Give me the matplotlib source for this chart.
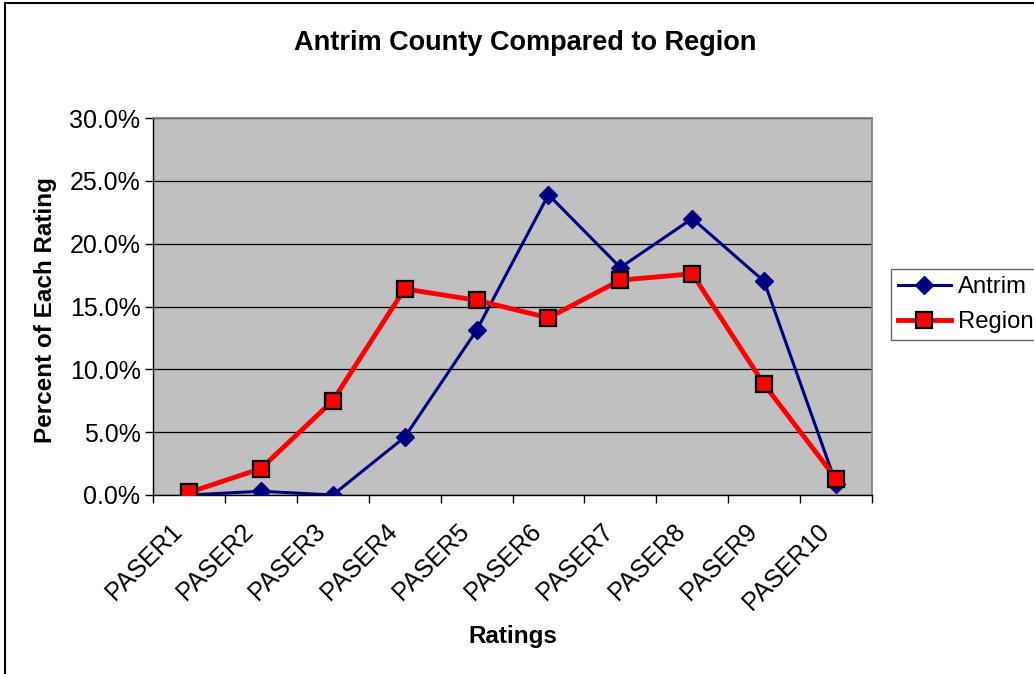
import matplotlib.pyplot as plt
from matplotlib.patches import Rectangle
from matplotlib.ticker import FuncFormatter, FixedLocator
from matplotlib.transforms import ScaledTranslation

plt.rcParams['font.family'] = ['Liberation Sans', 'DejaVu Sans']

ratings = ['PASER1', 'PASER2', 'PASER3', 'PASER4', 'PASER5',
           'PASER6', 'PASER7', 'PASER8', 'PASER9', 'PASER10']
antrim = [0.0, 0.3, 0.0, 4.6, 13.1, 23.9, 18.1, 22.0, 17.0, 0.9]
region = [0.2, 2.1, 7.5, 16.4, 15.5, 14.1, 17.1, 17.6, 8.8, 1.3]

W, H = 1034, 674
fig = plt.figure(figsize=(W / 100, H / 100), dpi=100)
ax = fig.add_axes([153/W, 1 - 495/H, (872 - 153)/W, (495 - 118)/H])
ax.set_facecolor('#c0c0c0')

x = list(range(len(ratings)))
ax.plot(x, antrim, color='#000080', lw=2.2, marker='D', ms=9.5,
        mec='#000080', mfc='#000080', label='Antrim', zorder=3)
ax.plot(x, region, color='#ff0000', lw=3.5, marker='s', ms=11,
        mec='black', mew=1.6, mfc='#ff0000', label='Region', zorder=4)

ax.set_xlim(-0.5, len(ratings) - 0.5)
ax.set_ylim(0, 30)
ax.set_yticks([0, 5, 10, 15, 20, 25, 30])
ax.yaxis.set_major_formatter(FuncFormatter(lambda v, p: '%.1f%%' % v))
ax.grid(axis='y', color='black', lw=0.9)
ax.set_axisbelow(True)

# category labels sit between the tick marks, rotated like Excel does
ax.set_xticks(x)
ax.set_xticklabels(ratings, rotation=45, ha='right', va='center',
                   rotation_mode='anchor')
ax.tick_params(axis='x', which='major', length=0, labelsize=18, pad=22)
shift = ScaledTranslation(-11/100, -2/100, fig.dpi_scale_trans)
for lab in ax.get_xticklabels():
    lab.set_transform(lab.get_transform() + shift)
ax.xaxis.set_minor_locator(FixedLocator([i - 0.5 for i in range(len(ratings) + 1)]))
ax.tick_params(axis='x', which='minor', length=6, width=1, color='black')
ax.tick_params(axis='y', length=6, width=1, labelsize=18, pad=3)

for side in ['top', 'right']:
    ax.spines[side].set_color('#808080')
    ax.spines[side].set_linewidth(1.2)
for side in ['left', 'bottom']:
    ax.spines[side].set_color('black')
    ax.spines[side].set_linewidth(1)

fig.text(525/W, 1 - 43/H, 'Antrim County Compared to Region', fontsize=19.5,
         fontweight='bold', ha='center', va='center')
fig.text(513/W, 1 - 637/H, 'Ratings', fontsize=17.5, fontweight='bold',
         ha='center', va='center')
fig.text(46/W, 1 - 310/H, 'Percent of Each Rating', fontsize=17.5,
         fontweight='bold', ha='center', va='center', rotation=90)

leg = fig.legend(loc='upper left', bbox_to_anchor=(891/W, 1 - 269/H),
                 bbox_transform=fig.transFigure, fontsize=17.2,
                 frameon=True, fancybox=False, edgecolor='#404040',
                 handlelength=2.2, handletextpad=0.3, borderpad=0.3,
                 labelspacing=0.55, borderaxespad=0)
leg.get_frame().set_linewidth(1)

# chart border (only left and top edges are visible in the picture)
fig.patches.append(Rectangle((5/W, -0.1), 1.2, 1 - 3/H + 0.1,
                             transform=fig.transFigure, fill=False,
                             edgecolor='black', lw=1.5))

fig.savefig('out.png', dpi=100)
